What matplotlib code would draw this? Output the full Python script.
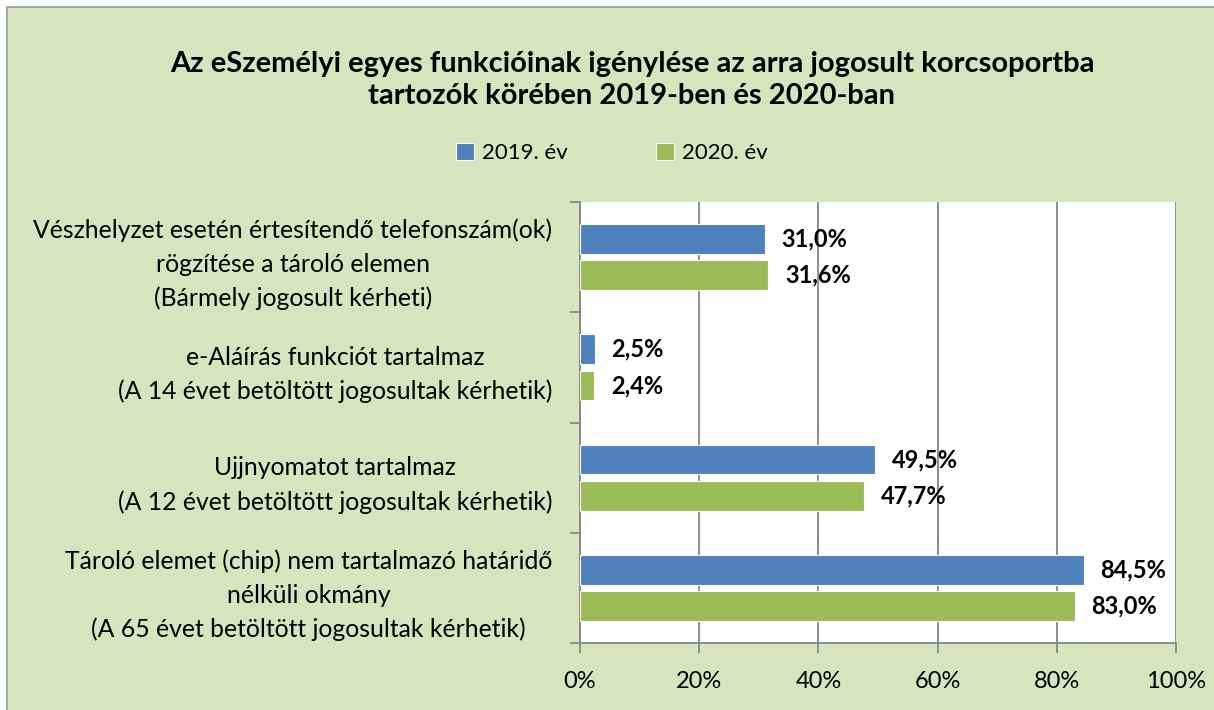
import matplotlib
matplotlib.use("Agg")
import matplotlib.pyplot as plt
import numpy as np

# data (top to bottom)
categories = [
    "Vészhelyzet esetén értesítendő telefonszám(ok)\nrögzítése a tároló elemen\n(Bármely jogosult kérheti)",
    "e-Aláírás funkciót tartalmaz\n(A 14 évet betöltött jogosultak kérhetik)",
    "Ujjnyomatot tartalmaz\n(A 12 évet betöltött jogosultak kérhetik)",
    "Tároló elemet (chip) nem tartalmazó határidő\nnélküli okmány\n(A 65 évet betöltött jogosultak kérhetik)",
]
vals_2019 = [31.0, 2.5, 49.5, 84.5]
vals_2020 = [31.6, 2.4, 47.7, 83.0]
series_names = ["2019. év", "2020. év"]
xticks = [0, 20, 40, 60, 80, 100]

plt.rcParams['font.family'] = ['Lato', 'DejaVu Sans']

bg = "#D7E4BD"
blue = "#4F81BD"
green = "#9BBB59"
grid_c = "#868686"
fs = 17

fig = plt.figure(figsize=(12.14, 7.10), dpi=100, facecolor="white")
# green chart area with gray border on top/left
fig.patches.append(plt.Rectangle((7/1214, -0.01), 1.1, 703/710 + 0.01, transform=fig.transFigure,
                                 facecolor=bg, edgecolor="#9a9a9a", linewidth=1.2, zorder=-5))

ax = fig.add_axes([580/1214, (710-643)/710, (1176-580)/1214, (643-202)/710])
ax.set_facecolor("white")

n = len(categories)
y = np.arange(n)
h = 0.27
off = 0.165
b1 = ax.barh(y - off, vals_2019, height=h, color=blue, edgecolor="white", linewidth=0.8, zorder=3, label=series_names[0])
b2 = ax.barh(y + off, vals_2020, height=h, color=green, edgecolor="white", linewidth=0.8, zorder=3, label=series_names[1])

for bars, vals in ((b1, vals_2019), (b2, vals_2020)):
    for bar, v in zip(bars, vals):
        ax.annotate(f"{v:.1f}%".replace(".", ","), (bar.get_width(), bar.get_y() + bar.get_height()/2),
                    xytext=(12, 0), textcoords="offset points", va="center", ha="left",
                    fontsize=fs, fontweight="bold", color="black", zorder=4)

ax.set_xlim(0, 100)
ax.set_ylim(n - 0.5, -0.5)
ax.set_xticks(xticks)
ax.set_xticklabels([f"{t}%" for t in xticks], fontsize=fs)
ax.xaxis.grid(True, color=grid_c, linewidth=1.3, zorder=1)
ax.tick_params(axis="x", length=7, width=1.3, color=grid_c, pad=13)

ax.set_yticks(y)
ax.set_yticklabels(categories, fontsize=17.8, multialignment="center", linespacing=1.55)
ax.set_yticks(np.arange(-0.5, n), minor=True)
ax.tick_params(axis="y", which="major", length=0, pad=20)
ax.tick_params(axis="y", which="minor", length=7, width=1.3, color=grid_c)

for s in ("top", "right"):
    ax.spines[s].set_visible(False)
for s in ("left", "bottom"):
    ax.spines[s].set_color(grid_c)
    ax.spines[s].set_linewidth(1.3)

fig.text(632/1214, 1 - 80/710,
         "Az eSzemélyi egyes funkcióinak igénylése az arra jogosult korcsoportba\ntartozók körében 2019-ben és 2020-ban",
         ha="center", va="center", fontsize=21, fontweight="bold", linespacing=1.25)

leg = fig.legend(handles=[b1, b2], labels=series_names, loc="center", bbox_to_anchor=(612/1214, 1 - 153/710),
                 ncol=2, frameon=False, fontsize=16, handlelength=0.8, handleheight=0.8,
                 columnspacing=4.0, handletextpad=0.35)

fig.savefig("out.png", dpi=100, facecolor=fig.get_facecolor())
